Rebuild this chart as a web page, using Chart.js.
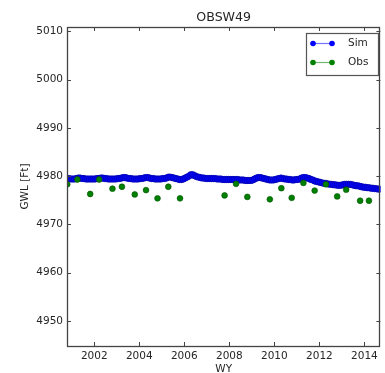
<!DOCTYPE html>
<html>
<head>
<meta charset="utf-8">
<title>OBSW49</title>
<script src="https://cdn.jsdelivr.net/npm/chart.js@4/dist/chart.umd.min.js"></script>
<style>
  html, body { margin: 0; padding: 0; background: #fff; }
  #chart { display: block; }
</style>
</head>
<body>
<canvas id="chart" width="385" height="373"></canvas>
<script>
// --- data ---
const wellName = 'OBSW49';
const xAxisLabel = 'WY';
const yAxisLabel = 'GWL [Ft]';

// simulated GWL, one row per water year (Oct .. Sep), WY2001 .. WY2014
const simStart = 2000.79;
const simGwl = [
  4979.5, 4979.5, 4979.4, 4979.4, 4979.4, 4979.5, 4979.6, 4979.6, 4979.5, 4979.5, 4979.4, 4979.4,
  4979.4, 4979.4, 4979.4, 4979.4, 4979.5, 4979.5, 4979.6, 4979.6, 4979.5, 4979.5, 4979.4, 4979.4,
  4979.4, 4979.4, 4979.4, 4979.5, 4979.5, 4979.6, 4979.7, 4979.7, 4979.6, 4979.5, 4979.5, 4979.4,
  4979.4, 4979.4, 4979.4, 4979.5, 4979.5, 4979.6, 4979.7, 4979.7, 4979.6, 4979.5, 4979.5, 4979.4,
  4979.4, 4979.4, 4979.4, 4979.5, 4979.5, 4979.6, 4979.8, 4979.8, 4979.7, 4979.6, 4979.5, 4979.4,
  4979.3, 4979.3, 4979.4, 4979.6, 4979.8, 4980.0, 4980.3, 4980.3, 4980.1, 4979.9, 4979.8, 4979.7,
  4979.6, 4979.6, 4979.5, 4979.5, 4979.5, 4979.5, 4979.5, 4979.5, 4979.4, 4979.4, 4979.4, 4979.3,
  4979.3, 4979.3, 4979.3, 4979.3, 4979.3, 4979.3, 4979.3, 4979.3, 4979.2, 4979.2, 4979.2, 4979.1,
  4979.1, 4979.1, 4979.1, 4979.2, 4979.4, 4979.6, 4979.7, 4979.7, 4979.6, 4979.5, 4979.4, 4979.3,
  4979.2, 4979.2, 4979.2, 4979.3, 4979.4, 4979.5, 4979.6, 4979.5, 4979.4, 4979.4, 4979.3, 4979.3,
  4979.2, 4979.2, 4979.3, 4979.3, 4979.4, 4979.6, 4979.7, 4979.7, 4979.6, 4979.5, 4979.3, 4979.2,
  4979.0, 4978.9, 4978.8, 4978.7, 4978.6, 4978.5, 4978.5, 4978.4, 4978.3, 4978.3, 4978.2, 4978.2,
  4978.1, 4978.1, 4978.1, 4978.2, 4978.3, 4978.3, 4978.3, 4978.3, 4978.2, 4978.1, 4978.0, 4978.0,
  4977.9, 4977.8, 4977.7, 4977.7, 4977.6, 4977.6, 4977.5, 4977.5, 4977.4, 4977.4, 4977.3, 4977.3
];

// observed GWL, spring and fall measurements
const obsDates = [
  2000.80, 2001.25, 2001.82, 2002.22, 2002.81, 2003.23, 2003.80, 2004.30,
  2004.81, 2005.29, 2005.81, 2007.79, 2008.30, 2008.80, 2009.80, 2010.31,
  2010.77, 2011.29, 2011.79, 2012.29, 2012.79, 2013.19, 2013.81, 2014.20
];
const obsGwl = [
  4978.3, 4979.3, 4976.3, 4979.3, 4977.4, 4977.8, 4976.2, 4977.1,
  4975.4, 4977.8, 4975.4, 4976.0, 4978.4, 4975.7, 4975.2, 4977.5,
  4975.5, 4978.6, 4977.0, 4978.3, 4975.8, 4977.2, 4974.9, 4974.9
];

const xTicks = [2002, 2004, 2006, 2008, 2010, 2012, 2014];
const yTicks = [4950, 4960, 4970, 4980, 4990, 5000, 5010];

const SIM_COLOR = '#0000ff';
const OBS_COLOR = '#008000';
const INK = '#262626';
const FONT = '"DejaVu Sans", sans-serif';

const simPoints = simGwl.map((v, i) => ({ x: simStart + i / 12, y: v }));
const obsPoints = obsGwl.map((v, i) => ({ x: obsDates[i], y: v }));

// matplotlib-like frame: spines, inward ticks on every side, title, axis labels, legend
const frameDecor = {
  id: 'frameDecor',
  afterDraw(chart) {
    const { ctx, chartArea: a, scales } = chart;
    const tl = 4;
    ctx.save();

    ctx.strokeStyle = '#444';
    ctx.lineWidth = 1;
    ctx.beginPath();
    xTicks.forEach(t => {
      const px = Math.round(scales.x.getPixelForValue(t)) + 0.5;
      ctx.moveTo(px, a.bottom); ctx.lineTo(px, a.bottom - tl);
      ctx.moveTo(px, a.top); ctx.lineTo(px, a.top + tl);
    });
    yTicks.forEach(t => {
      const py = Math.round(scales.y.getPixelForValue(t)) + 0.5;
      ctx.moveTo(a.left, py); ctx.lineTo(a.left + tl, py);
      ctx.moveTo(a.right, py); ctx.lineTo(a.right - tl, py);
    });
    ctx.stroke();

    ctx.lineWidth = 1.3;
    ctx.strokeRect(Math.round(a.left) + 0.5, Math.round(a.top) + 0.5,
      Math.round(a.right - a.left) - 1, Math.round(a.bottom - a.top));

    ctx.fillStyle = INK;
    ctx.textAlign = 'center';
    ctx.textBaseline = 'middle';
    ctx.font = '12.6px ' + FONT;
    ctx.fillText(wellName, (a.left + a.right) / 2, 18);

    ctx.font = '10.5px ' + FONT;
    ctx.fillText(xAxisLabel, (a.left + a.right) / 2, 369);
    ctx.save();
    ctx.translate(25, (a.top + a.bottom) / 2);
    ctx.rotate(-Math.PI / 2);
    ctx.fillText(yAxisLabel, 0, 0);
    ctx.restore();

    // legend box
    const lx = 306, ly = 33, lw = 72, lh = 42;
    ctx.fillStyle = '#fff';
    ctx.fillRect(lx, ly, lw, lh);
    ctx.strokeStyle = '#555';
    ctx.lineWidth = 1.2;
    ctx.strokeRect(lx + 0.5, ly + 0.5, lw, lh);
    chart.data.datasets.forEach((ds, i) => {
      const y = 43.5 + i * 19;
      ctx.strokeStyle = ds.borderColor;
      ctx.globalAlpha = 0.55;
      ctx.lineWidth = 1.2;
      ctx.beginPath();
      ctx.moveTo(313, y); ctx.lineTo(332, y);
      ctx.stroke();
      ctx.globalAlpha = 1;
      ctx.fillStyle = ds.backgroundColor;
      [313, 332].forEach(mx => {
        ctx.beginPath();
        ctx.arc(mx, y, 2.8, 0, Math.PI * 2);
        ctx.fill();
      });
      ctx.fillStyle = INK;
      ctx.textAlign = 'left';
      ctx.font = '10.5px ' + FONT;
      ctx.fillText(ds.label, 348, y);
    });

    ctx.restore();
  }
};

new Chart(document.getElementById('chart'), {
  type: 'line',
  data: {
    datasets: [
      {
        label: 'Sim',
        data: simPoints,
        borderColor: SIM_COLOR,
        backgroundColor: SIM_COLOR,
        borderWidth: 1.2,
        pointRadius: 3.2,
        pointBorderColor: '#00009a',
        pointBorderWidth: 0.6,
        tension: 0,
        order: 2
      },
      {
        label: 'Obs',
        data: obsPoints,
        borderColor: OBS_COLOR,
        backgroundColor: OBS_COLOR,
        showLine: false,
        pointRadius: 2.9,
        pointBorderColor: '#005000',
        pointBorderWidth: 0.6,
        order: 1
      }
    ]
  },
  options: {
    responsive: false,
    animation: false,
    devicePixelRatio: 1,
    layout: { padding: { top: 27, right: 2, left: 0, bottom: 0 } },
    plugins: {
      legend: { display: false },
      title: { display: false },
      tooltip: { enabled: false }
    },
    scales: {
      x: {
        type: 'linear',
        min: 2000.79,
        max: 2014.71,
        afterFit: s => { s.height = 27; },
        afterBuildTicks: s => { s.ticks = xTicks.map(v => ({ value: v })); },
        grid: { display: false, drawTicks: false },
        border: { display: false },
        ticks: {
          padding: 4,
          color: INK,
          font: { family: FONT, size: 10.5 },
          maxRotation: 0,
          callback: v => String(v)
        }
      },
      y: {
        type: 'linear',
        min: 4944.8,
        max: 5010.9,
        afterFit: s => { s.width = 67; },
        afterBuildTicks: s => { s.ticks = yTicks.map(v => ({ value: v })); },
        grid: { display: false, drawTicks: false },
        border: { display: false },
        ticks: {
          padding: 4,
          color: INK,
          font: { family: FONT, size: 10.5 },
          callback: v => String(v)
        }
      }
    }
  },
  plugins: [frameDecor]
});
</script>
</body>
</html>
